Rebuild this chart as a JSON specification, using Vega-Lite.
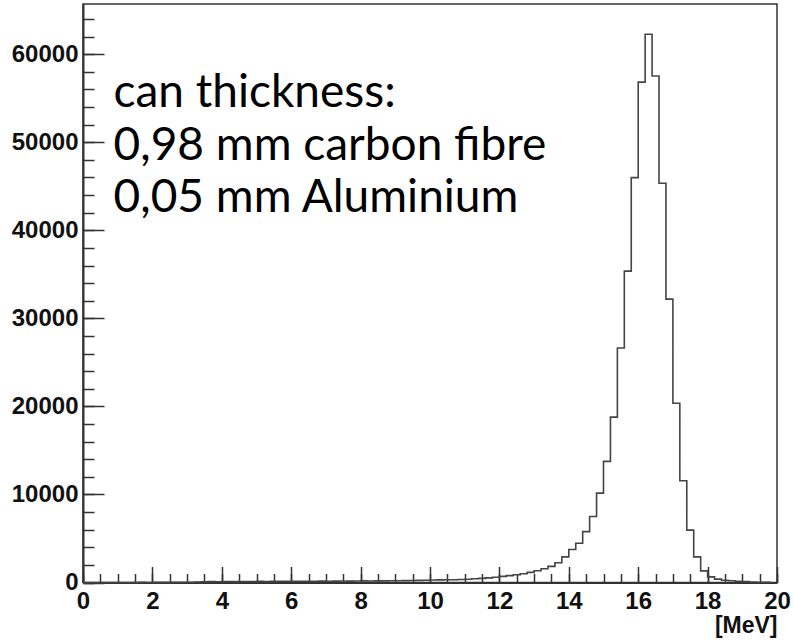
{
  "$schema": "https://vega.github.io/schema/vega-lite/v6.json",
  "width": 694,
  "height": 578.5,
  "autosize": {"type": "none"},
  "padding": {"left": 83, "top": 4, "right": 17, "bottom": 60.5},
  "background": "white",
  "config": {
    "view": {"stroke": "#333", "strokeWidth": 1.5},
    "axis": {"grid": false}
  },
  "data": {
    "values": [
      {"lo": 0.0, "n": 0}, {"lo": 0.2, "n": 0}, {"lo": 0.4, "n": 0}, {"lo": 0.6, "n": 0}, {"lo": 0.8, "n": 0},
      {"lo": 1.0, "n": 5}, {"lo": 1.2, "n": 0}, {"lo": 1.4, "n": 5}, {"lo": 1.6, "n": 10}, {"lo": 1.8, "n": 5},
      {"lo": 2.0, "n": 10}, {"lo": 2.2, "n": 10}, {"lo": 2.4, "n": 15}, {"lo": 2.6, "n": 20}, {"lo": 2.8, "n": 20},
      {"lo": 3.0, "n": 30}, {"lo": 3.2, "n": 60}, {"lo": 3.4, "n": 80}, {"lo": 3.6, "n": 100}, {"lo": 3.8, "n": 90},
      {"lo": 4.0, "n": 110}, {"lo": 4.2, "n": 100}, {"lo": 4.4, "n": 120}, {"lo": 4.6, "n": 110}, {"lo": 4.8, "n": 120},
      {"lo": 5.0, "n": 130}, {"lo": 5.2, "n": 120}, {"lo": 5.4, "n": 130}, {"lo": 5.6, "n": 140}, {"lo": 5.8, "n": 130},
      {"lo": 6.0, "n": 140}, {"lo": 6.2, "n": 150}, {"lo": 6.4, "n": 140}, {"lo": 6.6, "n": 150}, {"lo": 6.8, "n": 160},
      {"lo": 7.0, "n": 150}, {"lo": 7.2, "n": 160}, {"lo": 7.4, "n": 170}, {"lo": 7.6, "n": 160}, {"lo": 7.8, "n": 170},
      {"lo": 8.0, "n": 180}, {"lo": 8.2, "n": 170}, {"lo": 8.4, "n": 180}, {"lo": 8.6, "n": 190}, {"lo": 8.8, "n": 200},
      {"lo": 9.0, "n": 200}, {"lo": 9.2, "n": 210}, {"lo": 9.4, "n": 220}, {"lo": 9.6, "n": 240}, {"lo": 9.8, "n": 260},
      {"lo": 10.0, "n": 290}, {"lo": 10.2, "n": 300}, {"lo": 10.4, "n": 310}, {"lo": 10.6, "n": 320}, {"lo": 10.8, "n": 340},
      {"lo": 11.0, "n": 370}, {"lo": 11.2, "n": 420}, {"lo": 11.4, "n": 470}, {"lo": 11.6, "n": 520}, {"lo": 11.8, "n": 600},
      {"lo": 12.0, "n": 690}, {"lo": 12.2, "n": 780}, {"lo": 12.4, "n": 880}, {"lo": 12.6, "n": 1000}, {"lo": 12.8, "n": 1150},
      {"lo": 13.0, "n": 1330}, {"lo": 13.2, "n": 1560}, {"lo": 13.4, "n": 1830}, {"lo": 13.6, "n": 2250}, {"lo": 13.8, "n": 2910},
      {"lo": 14.0, "n": 3750}, {"lo": 14.2, "n": 4450}, {"lo": 14.4, "n": 5780}, {"lo": 14.6, "n": 7490}, {"lo": 14.8, "n": 10150},
      {"lo": 15.0, "n": 13760}, {"lo": 15.2, "n": 18780}, {"lo": 15.4, "n": 26640}, {"lo": 15.6, "n": 35360}, {"lo": 15.8, "n": 45980},
      {"lo": 16.0, "n": 56830}, {"lo": 16.2, "n": 62270}, {"lo": 16.4, "n": 57520}, {"lo": 16.6, "n": 45350}, {"lo": 16.8, "n": 32180},
      {"lo": 17.0, "n": 20360}, {"lo": 17.2, "n": 11560}, {"lo": 17.4, "n": 5950}, {"lo": 17.6, "n": 2910}, {"lo": 17.8, "n": 1320},
      {"lo": 18.0, "n": 640}, {"lo": 18.2, "n": 380}, {"lo": 18.4, "n": 260}, {"lo": 18.6, "n": 200}, {"lo": 18.8, "n": 150},
      {"lo": 19.0, "n": 100}, {"lo": 19.2, "n": 50}, {"lo": 19.4, "n": 30}, {"lo": 19.6, "n": 10}, {"lo": 19.8, "n": 0}
    ]
  },
  "layer": [
    {
      "mark": {"type": "line", "interpolate": "step-after", "color": "#444", "strokeWidth": 1.6},
      "encoding": {
        "x": {
          "field": "lo", "type": "quantitative",
          "scale": {"domain": [0, 20], "nice": false, "zero": false},
          "axis": {
            "orient": "bottom", "values": [0, 2, 4, 6, 8, 10, 12, 14, 16, 18, 20], "format": "d",
            "ticks": false, "domain": true, "domainColor": "#333", "domainWidth": 2,
            "labelFont": "Liberation Sans", "labelFontWeight": "bold", "labelFontSize": 24, "labelColor": "#111",
            "labelPadding": 7, "labelFlush": false, "labelOverlap": false,
            "title": "[MeV]", "titleFont": "Liberation Sans", "titleFontWeight": "bold", "titleFontSize": 23,
            "titleColor": "#111", "titleAnchor": "end", "titlePadding": 1
          }
        },
        "y": {
          "field": "n", "type": "quantitative",
          "scale": {"domain": [0, 65700], "nice": false},
          "axis": {
            "orient": "left", "values": [0, 10000, 20000, 30000, 40000, 50000, 60000], "format": "d",
            "ticks": false, "domain": true, "domainColor": "#333", "domainWidth": 2,
            "labelFont": "Liberation Sans", "labelFontWeight": "bold", "labelFontSize": 24, "labelColor": "#111",
            "labelPadding": 5, "labelFlush": false, "labelOverlap": false, "title": null
          }
        }
      }
    },
    {
      "mark": {"type": "point", "opacity": 0},
      "encoding": {
        "x": {
          "field": "lo", "type": "quantitative",
          "axis": {
            "orient": "bottom", "labels": false, "domain": false, "title": null,
            "values": [0, 0.5, 1, 1.5, 2, 2.5, 3, 3.5, 4, 4.5, 5, 5.5, 6, 6.5, 7, 7.5, 8, 8.5, 9, 9.5, 10, 10.5, 11, 11.5, 12, 12.5, 13, 13.5, 14, 14.5, 15, 15.5, 16, 16.5, 17, 17.5, 18, 18.5, 19, 19.5, 20],
            "ticks": true, "tickSize": -9, "tickWidth": 1.5, "tickColor": "#333"
          }
        },
        "y": {
          "field": "n", "type": "quantitative",
          "axis": {
            "orient": "left", "labels": false, "domain": false, "title": null,
            "values": [0, 2000, 4000, 6000, 8000, 10000, 12000, 14000, 16000, 18000, 20000, 22000, 24000, 26000, 28000, 30000, 32000, 34000, 36000, 38000, 40000, 42000, 44000, 46000, 48000, 50000, 52000, 54000, 56000, 58000, 60000, 62000, 64000],
            "ticks": true, "tickSize": -11, "tickWidth": 1.5, "tickColor": "#333"
          }
        }
      }
    },
    {
      "mark": {"type": "point", "opacity": 0},
      "encoding": {
        "x": {
          "field": "lo", "type": "quantitative",
          "axis": {
            "orient": "bottom", "labels": false, "domain": false, "title": null,
            "values": [0, 2, 4, 6, 8, 10, 12, 14, 16, 18, 20],
            "ticks": true, "tickSize": -16, "tickWidth": 1.5, "tickColor": "#333"
          }
        },
        "y": {
          "field": "n", "type": "quantitative",
          "axis": {
            "orient": "left", "labels": false, "domain": false, "title": null,
            "values": [0, 10000, 20000, 30000, 40000, 50000, 60000],
            "ticks": true, "tickSize": -21, "tickWidth": 1.5, "tickColor": "#333"
          }
        }
      }
    },
    {
      "data": {"values": [{}]},
      "mark": {
        "type": "text",
        "text": ["can thickness:", "0,98 mm carbon fibre", "0,05 mm Aluminium"],
        "font": "Lato", "fontSize": 46, "lineHeight": 52.5,
        "align": "left", "baseline": "alphabetic", "color": "black"
      },
      "encoding": {
        "x": {"datum": 0.88, "type": "quantitative", "axis": null},
        "y": {"datum": 54000, "type": "quantitative", "axis": null}
      }
    }
  ],
  "resolve": {"axis": {"x": "independent", "y": "independent"}}
}
